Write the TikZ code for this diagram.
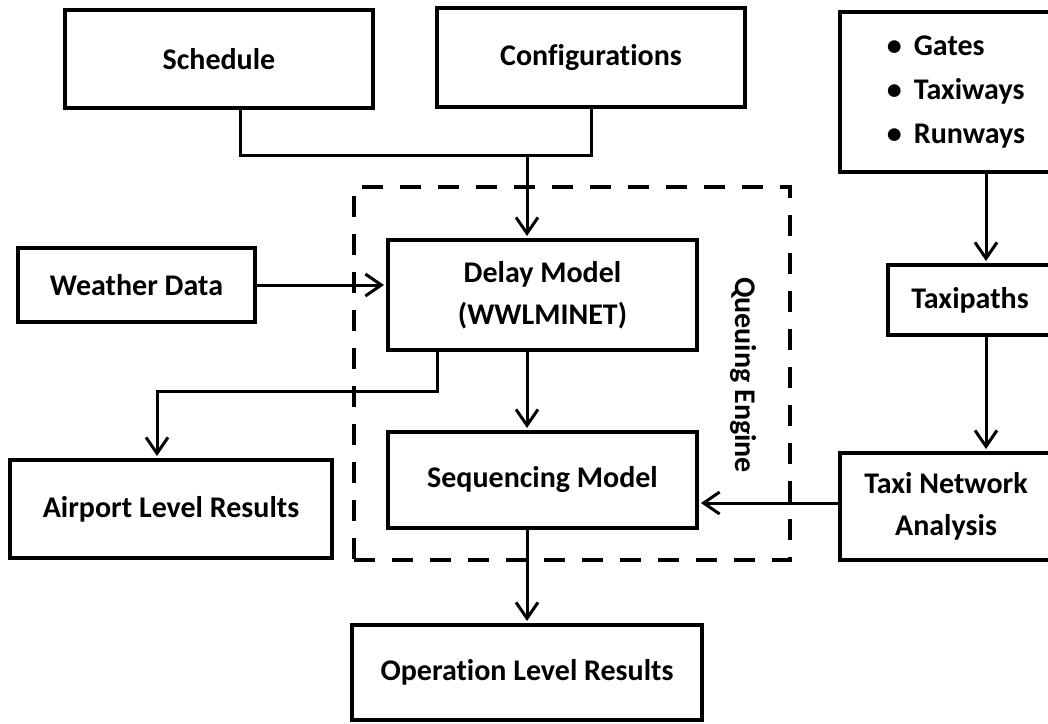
\documentclass[tikz,border=0pt]{standalone}
\usepackage{fontspec}
\setmainfont{Carlito}[Ligatures=NoCommon]
\usetikzlibrary{arrows.meta}

\begin{document}
\begin{tikzpicture}[
        x=0.5pt, y=-0.5pt,
        block/.style = {draw, line width=2pt, align=center, inner sep=0pt, font=\bfseries\fontsize{15}{21}\selectfont},
        line/.style = {line width=1.5pt},
        arrow/.style = {line, -{Straight Barb[length=8pt, width=11pt]}, shorten >=1pt},
        engine/.style = {draw, line width=2pt, dash pattern=on 10.5pt off 8.5pt},
    ]
    \useasboundingbox (0,0) rectangle (1048,723);
    % inputs
    \node[block, minimum width=154pt, minimum height=49pt] (sched) at (219,59) {Schedule};
    \node[block, minimum width=154pt, minimum height=49.5pt] (config) at (591,57.5) {Configurations};
    \node[block, minimum width=106pt, minimum height=80pt, align=left, font=\bfseries\fontsize{15}{22}\selectfont] (gates) at (946,92)
        {\hspace*{10pt}\textbullet\hspace{6pt}Gates\\\hspace*{10pt}\textbullet\hspace{6pt}Taxiways\\\hspace*{10pt}\textbullet\hspace{6pt}Runways};
    \node[block, minimum width=118.5pt, minimum height=37pt] (weather) at (136.5,285) {Weather Data};
    % queuing engine
    \node[engine, minimum width=218pt, minimum height=186.5pt] (engine) at (572,373.5) {};
    \node[font=\bfseries\fontsize{15}{21}\selectfont, rotate=-90] (englabel) at (743,375) {Queuing Engine};
    \node[block, minimum width=154.5pt, minimum height=55pt] (delay) at (542.5,295) {Delay Model\\(WWLMINET)};
    \node[block, minimum width=154.5pt, minimum height=48pt] (seq) at (542.5,480) {Sequencing Model};
    % taxi side
    \node[block, minimum width=82pt, minimum height=35pt] (taxipaths) at (970,300) {Taxipaths};
    \node[block, minimum width=106pt, minimum height=53.5pt] (taxinet) at (946,506.5) {Taxi Network\\Analysis};
    % outputs
    \node[block, minimum width=161pt, minimum height=49pt] (airport) at (171,509) {Airport Level Results};
    \node[block, minimum width=175pt, minimum height=47.5pt] (oper) at (527,672.5) {Operation Level Results};

    \coordinate (merge) at (527,155);
    \coordinate (split) at (157,391);
    \draw[line] (sched.south -| 240,0) |- (merge) -| (config.south);
    \draw[arrow] (merge) -- (merge |- delay.north);
    \draw[arrow] (weather.east) -- (weather.east -| delay.west);
    \draw[arrow] (delay.south -| 437,0) |- (split) -- (split |- airport.north);
    \draw[arrow] (delay.south -| merge) -- (seq.north -| merge);
    \draw[arrow] (gates.south -| 986,0) -- (taxipaths.north -| 986,0);
    \draw[arrow] (taxipaths.south -| 986,0) -- (taxinet.north -| 986,0);
    \draw[arrow] (taxinet.west |- 0,503) -- (seq.east |- 0,503);
    \draw[arrow] (seq.south -| merge) -- (oper.north -| merge);
\end{tikzpicture}
\end{document}
